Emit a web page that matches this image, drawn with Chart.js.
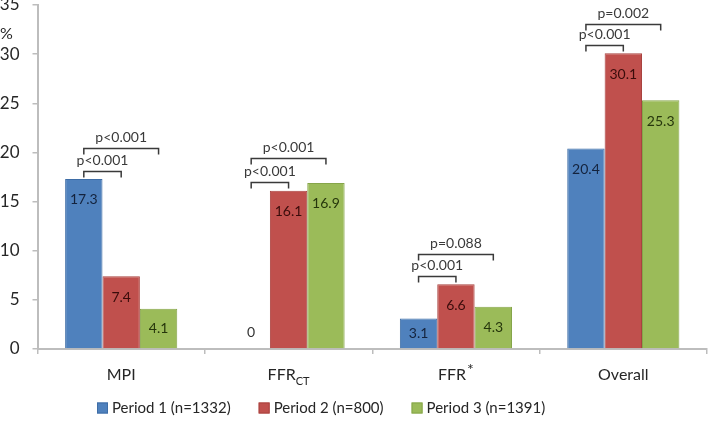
<!DOCTYPE html>
<html>
<head>
<meta charset="utf-8">
<script src="https://cdn.jsdelivr.net/npm/chart.js@4.4.1/dist/chart.umd.min.js"></script>
<style>
  html, body { margin: 0; padding: 0; background: #fff; }
  #chart { display: block; }
</style>
</head>
<body>
<canvas id="chart" width="709" height="427"></canvas>
<script>
  const categories = ['MPI', 'FFR_CT', 'FFR^*', 'Overall'];
  const seriesNames = ['Period 1 (n=1332)', 'Period 2 (n=800)', 'Period 3 (n=1391)'];
  const period1 = [17.3, 0, 3.1, 20.4];
  const period2 = [7.4, 16.1, 6.6, 30.1];
  const period3 = [4.1, 16.9, 4.3, 25.3];
  const yTicks = [0, 5, 10, 15, 20, 25, 30, 35];

  // comparison brackets: category, first series, second series, height (in %), text
  const bracketCat = [0, 0, 1, 1, 2, 2, 3, 3];
  const bracketFrom = [0, 0, 0, 0, 0, 0, 0, 0];
  const bracketTo = [1, 2, 1, 2, 1, 2, 1, 2];
  const bracketAt = [18.1, 20.4, 17.0, 19.4, 7.4, 9.7, 30.9, 33.1];
  const bracketText = ['p<0.001', 'p<0.001', 'p<0.001', 'p<0.001', 'p<0.001', 'p=0.088', 'p<0.001', 'p=0.002'];

  const FONT = 'Lato, "Open Sans", sans-serif';
  const fills = ['#4F81BD', '#C0504D', '#9BBB59'];
  const borders = ['#3E6DA6', '#A9423F', '#86A54A'];
  const labelInk = ['#14233d', '#3a0c0b', '#26360c'];
  const axisGray = '#BDBDBD';

  function splitLabel(s) {
    if (s.indexOf('_') >= 0) { const p = s.split('_'); return { main: p[0], sub: p[1], sup: '' }; }
    if (s.indexOf('^') >= 0) { const p = s.split('^'); return { main: p[0], sub: '', sup: p[1] }; }
    return { main: s, sub: '', sup: '' };
  }

  const overlay = {
    id: 'overlay',
    afterDatasetsDraw(chart) {
      const ctx = chart.ctx;
      const xs = chart.scales.x, ys = chart.scales.y;
      const base = ys.getPixelForValue(0);
      ctx.save();

      // values inside the bars
      ctx.font = '14px ' + FONT;
      ctx.textAlign = 'center';
      ctx.textBaseline = 'middle';
      chart.data.datasets.forEach((ds, di) => {
        chart.getDatasetMeta(di).data.forEach((bar, i) => {
          const v = ds.data[i];
          const h = base - bar.y;
          const cy = v === 0 ? base - 17 : bar.y + Math.min(21, h / 2);
          ctx.fillStyle = v === 0 ? '#333' : labelInk[di];
          ctx.fillText(String(v), bar.x, cy);
        });
      });

      // brackets
      ctx.strokeStyle = '#3a3a3a';
      ctx.lineWidth = 1.5;
      ctx.fillStyle = '#3a3a3a';
      bracketCat.forEach((c, k) => {
        const a = chart.getDatasetMeta(bracketFrom[k]).data[c].x;
        const b = chart.getDatasetMeta(bracketTo[k]).data[c].x;
        const yy = Math.round(ys.getPixelForValue(bracketAt[k])) + 0.5;
        ctx.beginPath();
        ctx.moveTo(a, yy + 6);
        ctx.lineTo(a, yy);
        ctx.lineTo(b, yy);
        ctx.lineTo(b, yy + 6);
        ctx.stroke();
        ctx.fillText(bracketText[k], (a + b) / 2, yy - 11);
      });

      // category labels
      ctx.fillStyle = '#262626';
      categories.forEach((c, i) => {
        const cx = xs.getPixelForValue(i);
        const lab = splitLabel(c);
        ctx.font = '16px ' + FONT;
        const wMain = ctx.measureText(lab.main).width;
        ctx.font = '11px ' + FONT;
        const wSub = lab.sub ? ctx.measureText(lab.sub).width : 0;
        ctx.font = '16px ' + FONT;
        const wSup = lab.sup ? ctx.measureText(lab.sup).width + 1 : 0;
        let x0 = cx - (wMain + wSub + wSup) / 2;
        ctx.textAlign = 'left';
        ctx.font = '16px ' + FONT;
        ctx.fillText(lab.main, x0, 375);
        x0 += wMain;
        if (lab.sub) { ctx.font = '11px ' + FONT; ctx.fillText(lab.sub, x0, 381); }
        if (lab.sup) { ctx.font = '16px ' + FONT; ctx.fillText(lab.sup, x0 + 1, 370); }
      });

      // unit label
      ctx.font = '16px ' + FONT;
      ctx.textAlign = 'left';
      ctx.fillText('%', 0, 34);

      // legend
      let lx = 97;
      const ly = 408;
      ctx.font = '15px ' + FONT;
      seriesNames.forEach((name, i) => {
        ctx.fillStyle = fills[i];
        ctx.fillRect(lx, ly - 5.5, 11, 11);
        ctx.strokeStyle = borders[i];
        ctx.lineWidth = 1;
        ctx.strokeRect(lx + 0.5, ly - 5, 10, 10);
        ctx.fillStyle = '#262626';
        ctx.fillText(name, lx + 15, ly);
        lx += 15 + ctx.measureText(name).width + 28;
      });
      ctx.restore();
    }
  };

  function initChart() {
    const ctx = document.getElementById('chart').getContext('2d');
    new Chart(ctx, {
      type: 'bar',
      data: {
        labels: categories,
        datasets: [period1, period2, period3].map((d, i) => ({
          label: seriesNames[i],
          data: d,
          backgroundColor: fills[i],
          borderColor: borders[i],
          borderWidth: 1,
          categoryPercentage: 0.67,
          barPercentage: 1.0
        }))
      },
      options: {
        responsive: false,
        animation: false,
        layout: { padding: { top: 5, right: 2, left: 0, bottom: 0 } },
        plugins: { legend: { display: false }, tooltip: { enabled: false } },
        scales: {
          x: {
            offset: true,
            grid: { display: true, drawOnChartArea: false, offset: true, tickLength: 5, color: axisGray, lineWidth: 1.5 },
            border: { color: axisGray, width: 2 },
            ticks: { display: false },
            afterFit(scale) { scale.height = 78; }
          },
          y: {
            min: 0,
            max: 35,
            afterBuildTicks(scale) { scale.ticks = yTicks.map(v => ({ value: v })); },
            grid: { display: true, drawOnChartArea: false, tickLength: 5, color: axisGray, lineWidth: 1.5 },
            border: { color: axisGray, width: 2 },
            ticks: { color: '#262626', padding: 13, font: { family: FONT, size: 17 } },
            afterFit(scale) { scale.width = 37.5; scale.paddingTop = 0; scale.paddingBottom = 0; }
          }
        }
      },
      plugins: [overlay]
    });
  }

  document.addEventListener('DOMContentLoaded', initChart);
</script>
</body>
</html>
